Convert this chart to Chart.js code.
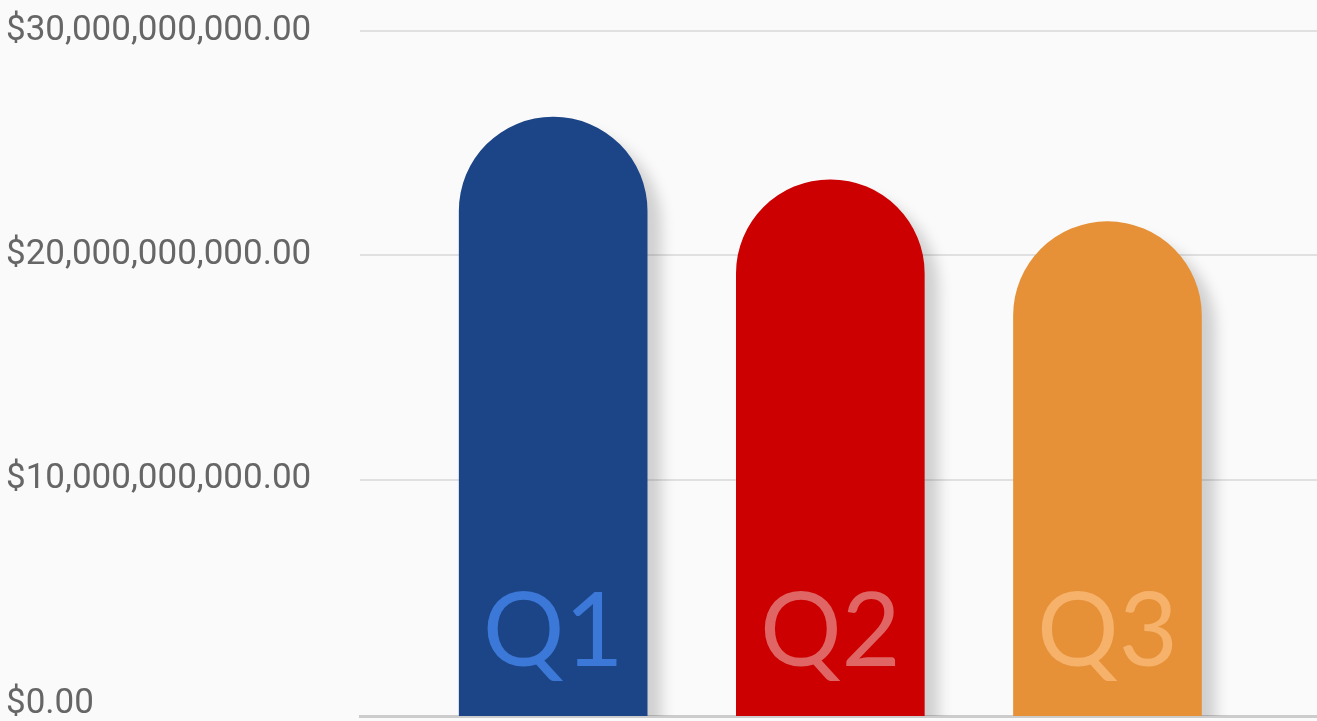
<!DOCTYPE html>
<html><head><meta charset="utf-8">
<script src="https://cdn.jsdelivr.net/npm/chart.js@4.4.1/dist/chart.umd.min.js"></script>
<style>
html,body{margin:0;padding:0;background:#fafafa;overflow:hidden;}
#wrap{width:1317px;height:721px;position:relative;}
</style>
</head><body><div id="wrap"><canvas id="c"></canvas></div>
<script>
const categories = ['Q1', 'Q2', 'Q3'];
const revenue = [26.16e9, 23.37e9, 21.5e9];
const yTickValues = [0, 10e9, 20e9, 30e9];
const barColors = ['#1c4587', '#cc0000', '#e69138'];
const labelColors = ['#3c78d8', '#e06666', '#f6b26b'];

const fmt = new Intl.NumberFormat('en-US', {style: 'currency', currency: 'USD', minimumFractionDigits: 2});
const Y_MIN = -0.535e9;

const shadowPlugin = {
  id: 'barShadow',
  beforeDatasetsDraw(chart) {
    const c = chart.ctx;
    c.save();
    c.shadowColor = 'rgba(0,0,0,0.17)';
    c.shadowBlur = 14;
    c.shadowOffsetX = 14;
    c.shadowOffsetY = 14;
  },
  afterDatasetsDraw(chart) {
    chart.ctx.restore();
  }
};

const labelPlugin = {
  id: 'barLabels',
  afterDatasetsDraw(chart) {
    const c = chart.ctx;
    const meta = chart.getDatasetMeta(0);
    const base = chart.scales.y.getPixelForValue(0);
    c.save();
    c.font = '400 102px Lato';
    c.textAlign = 'center';
    c.textBaseline = 'alphabetic';
    meta.data.forEach((bar, i) => {
      c.fillStyle = labelColors[i];
      c.fillText(categories[i], bar.x, base - 38);
    });
    c.restore();
  }
};

new Chart(document.getElementById('c'), {
  type: 'bar',
  data: {
    datasets: [{
      data: categories.map((_, i) => ({x: i, y: revenue[i]})),
      backgroundColor: barColors,
      barThickness: 188,
      base: Y_MIN,
      borderSkipped: 'bottom',
      borderRadius: {topLeft: 200, topRight: 200, bottomLeft: 0, bottomRight: 0}
    }]
  },
  options: {
    responsive: true,
    maintainAspectRatio: false,
    animation: false,
    layout: {padding: {left: 6, top: 31, right: 0, bottom: 0}},
    plugins: {legend: {display: false}, tooltip: {enabled: false}},
    scales: {
      x: {
        type: 'linear',
        offset: false,
        min: -0.697,
        max: 2.756,
        z: 1,
        ticks: {display: false},
        grid: {display: false},
        border: {display: true, color: '#cccccc', width: 3},
        afterFit(s) { s.height = 5; s.paddingLeft = 0; s.paddingRight = 0; }
      },
      y: {
        min: Y_MIN,
        max: 30e9,
        afterBuildTicks(s) { s.ticks = yTickValues.map(v => ({value: v})); },
        afterFit(s) { s.width = 354; s.paddingTop = 0; s.paddingBottom = 0; },
        border: {display: false},
        grid: {
          color: (ctx) => (ctx.tick && ctx.tick.value === 0) ? 'rgba(0,0,0,0)' : '#e0e0e0',
          lineWidth: 2,
          drawTicks: false
        },
        ticks: {
          crossAlign: 'far',
          color: '#666666',
          font: {family: 'Roboto', size: 35},
          callback: (v) => fmt.format(v)
        }
      }
    }
  },
  plugins: [shadowPlugin, labelPlugin]
});
</script>
</body></html>
